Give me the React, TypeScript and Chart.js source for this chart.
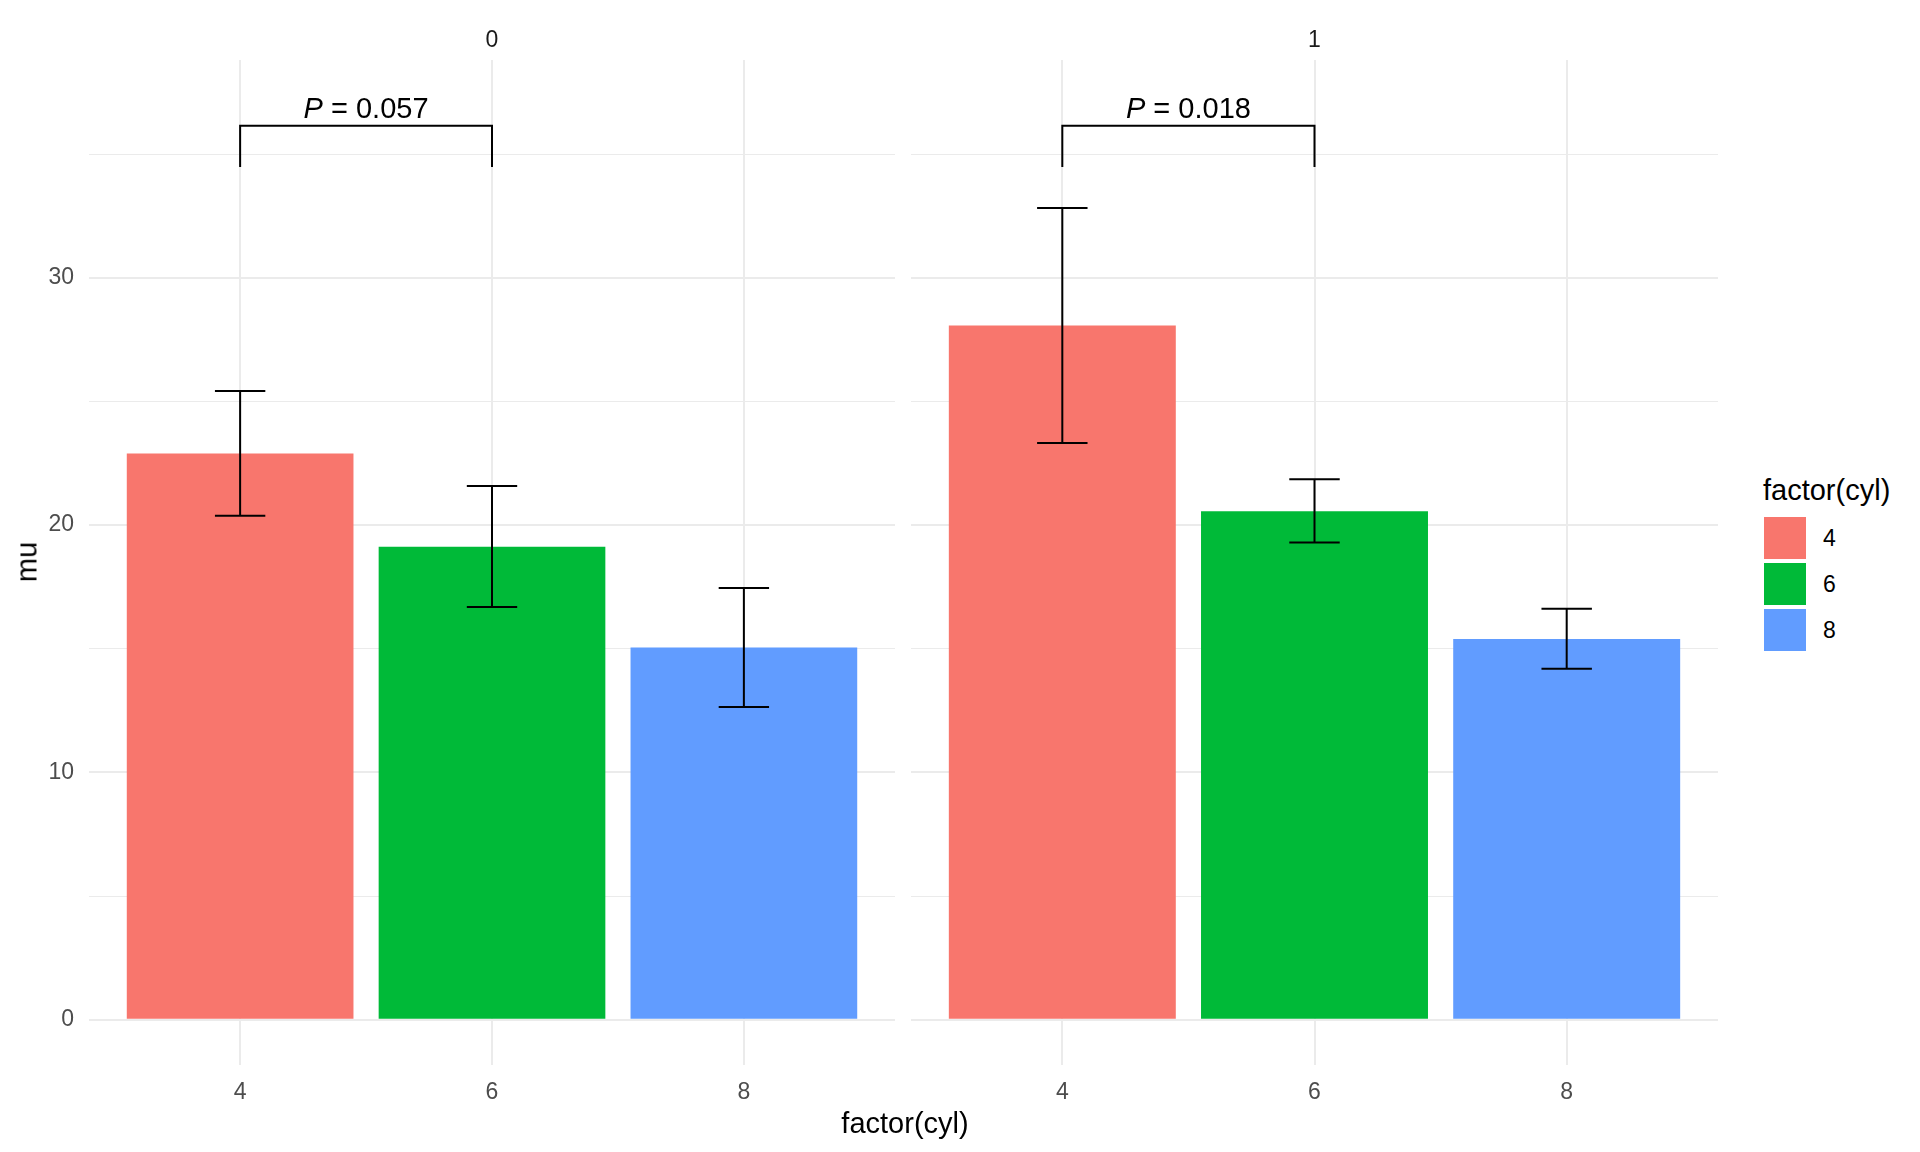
import React, { useEffect, useRef } from "react";
import { Chart, registerables } from "chart.js";
Chart.register(...registerables);

// ---- data ----
const categories = ["4", "6", "8"];
const facets = ["0", "1"];
const muAm0 = [22.9, 19.125, 15.05];
const muAm1 = [28.075, 20.567, 15.4];
const lowerAm0 = [20.38, 16.69, 12.65];
const upperAm0 = [25.43, 21.58, 17.46];
const lowerAm1 = [23.32, 19.3, 14.19];
const upperAm1 = [32.83, 21.86, 16.62];
const pValues = ["0.057", "0.018"];
const bracketY = 36.15;
const bracketLegY = 34.48;
const yLabelTicks = [0, 10, 20, 30];
const yGridTicks = [0, 5, 10, 15, 20, 25, 30, 35];
const colors = ["#F8766D", "#00BA38", "#619CFF"];
const legendTitle = "factor(cyl)";
const xTitle = "factor(cyl)";
const yTitle = "mu";

const FONT = "'Liberation Sans', Arial, Helvetica, sans-serif";
const Y_MIN = -1.81;
const Y_MAX = 38.81;

function makeOverlay(lower: number[], upper: number[], pText: string) {
  return {
    id: "overlay",
    afterDatasetsDraw(chart: any) {
      const { ctx } = chart;
      const x = chart.scales.x;
      const y = chart.scales.y;
      ctx.save();
      ctx.strokeStyle = "#000";
      ctx.lineWidth = 2;
      ctx.lineCap = "butt";
      ctx.lineJoin = "miter";
      for (let i = 0; i < lower.length; i++) {
        const px = x.getPixelForValue(i + 1);
        const half = x.getPixelForValue(i + 1.1) - px;
        const yt = y.getPixelForValue(upper[i]);
        const yb = y.getPixelForValue(lower[i]);
        ctx.beginPath();
        ctx.moveTo(px, yt);
        ctx.lineTo(px, yb);
        ctx.moveTo(px - half, yt);
        ctx.lineTo(px + half, yt);
        ctx.moveTo(px - half, yb);
        ctx.lineTo(px + half, yb);
        ctx.stroke();
      }
      // significance bracket between categories 1 and 2
      const x1 = x.getPixelForValue(1);
      const x2 = x.getPixelForValue(2);
      const yb = y.getPixelForValue(bracketY);
      const yl = y.getPixelForValue(bracketLegY);
      ctx.beginPath();
      ctx.moveTo(x1, yl);
      ctx.lineTo(x1, yb);
      ctx.lineTo(x2, yb);
      ctx.lineTo(x2, yl);
      ctx.stroke();
      // label
      ctx.fillStyle = "#000";
      ctx.textBaseline = "alphabetic";
      ctx.textAlign = "left";
      const italic = `italic 29px ${FONT}`;
      const normal = `29px ${FONT}`;
      ctx.font = italic;
      const wP = ctx.measureText("P").width;
      ctx.font = normal;
      const rest = " = " + pText;
      const wR = ctx.measureText(rest).width;
      const total = wP + wR;
      const cx = (x1 + x2) / 2;
      const ty = yb - 8;
      let sx = cx - total / 2;
      ctx.font = italic;
      ctx.fillText("P", sx, ty);
      ctx.font = normal;
      ctx.fillText(rest, sx + wP, ty);
      ctx.restore();
    },
  };
}

function makeConfig(mu: number[], lower: number[], upper: number[], pText: string, showY: boolean): any {
  return {
    type: "bar",
    data: {
      datasets: [
        {
          data: mu.map((v, i) => ({ x: i + 1, y: v })),
          backgroundColor: colors,
          borderWidth: 0,
          barPercentage: 0.9,
          categoryPercentage: 1,
        },
      ],
    },
    options: {
      responsive: false,
      animation: false,
      devicePixelRatio: 1,
      layout: { padding: { top: 60, left: 0, right: 0, bottom: 0 } },
      plugins: { legend: { display: false }, tooltip: { enabled: false }, title: { display: false } },
      scales: {
        x: {
          type: "linear",
          min: 0.4,
          max: 3.6,
          offset: false,
          afterBuildTicks: (axis: any) => {
            axis.ticks = categories.map((_, i) => ({ value: i + 1 }));
          },
          afterFit: (s: any) => {
            s.height = 87.5;
          },
          border: { display: false },
          grid: { color: "#EBEBEB", lineWidth: 2, drawTicks: false, offset: false },
          ticks: {
            callback: (v: number) => categories[Math.round(v) - 1],
            color: "#4D4D4D",
            font: { size: 23, family: FONT },
            padding: 14,
            autoSkip: false,
            maxRotation: 0,
          },
        },
        y: {
          type: "linear",
          min: Y_MIN,
          max: Y_MAX,
          afterBuildTicks: (axis: any) => {
            axis.ticks = yGridTicks.map((v) => ({ value: v }));
          },
          afterFit: (s: any) => {
            s.width = showY ? 89 : 0;
          },
          border: { display: false },
          grid: {
            color: "#EBEBEB",
            drawTicks: false,
            lineWidth: (c: any) => (c.tick && c.tick.value % 10 === 0 ? 2 : 1),
          },
          ticks: {
            display: showY,
            callback: (v: number) => (yLabelTicks.includes(v) ? String(v) : ""),
            color: "#4D4D4D",
            font: { size: 23, family: FONT },
            padding: 15,
          },
        },
      },
    },
    plugins: [makeOverlay(lower, upper, pText)],
  };
}

const centered = (x: number, y: number, extra: any = {}): any => ({
  position: "absolute",
  left: x,
  top: y,
  transform: "translate(-50%, -50%)",
  lineHeight: 1,
  whiteSpace: "nowrap",
  fontFamily: FONT,
  ...extra,
});

export default function App() {
  const leftRef = useRef<HTMLCanvasElement>(null);
  const rightRef = useRef<HTMLCanvasElement>(null);

  useEffect(() => {
    document.body.style.margin = "0";
    const c1 = new Chart(leftRef.current as HTMLCanvasElement, makeConfig(muAm0, lowerAm0, upperAm0, pValues[0], true));
    const c2 = new Chart(rightRef.current as HTMLCanvasElement, makeConfig(muAm1, lowerAm1, upperAm1, pValues[1], false));
    return () => {
      c1.destroy();
      c2.destroy();
    };
  }, []);

  return (
    <div style={{ position: "absolute", left: 0, top: 0, width: 1920, height: 1152, overflow: "hidden", background: "#fff" }}>
      <canvas ref={leftRef} width={895} height={1152} style={{ position: "absolute", left: 0, top: 0, width: 895, height: 1152 }} />
      <canvas ref={rightRef} width={807} height={1152} style={{ position: "absolute", left: 911, top: 0, width: 807, height: 1152 }} />
      <div style={centered(492, 39, { fontSize: 23, color: "#1A1A1A" })}>{facets[0]}</div>
      <div style={centered(1314.5, 39, { fontSize: 23, color: "#1A1A1A" })}>{facets[1]}</div>
      <div style={centered(27, 562, { fontSize: 29, color: "#000", transform: "translate(-50%, -50%) rotate(-90deg)" })}>{yTitle}</div>
      <div style={centered(905, 1123, { fontSize: 29, color: "#000" })}>{xTitle}</div>
      <div style={{ position: "absolute", left: 1763, top: 490, transform: "translateY(-50%)", fontFamily: FONT, fontSize: 29, lineHeight: 1, whiteSpace: "nowrap", color: "#000" }}>
        {legendTitle}
      </div>
      {categories.map((c, i) => (
        <React.Fragment key={c}>
          <div style={{ position: "absolute", left: 1764, top: 517 + i * 46, width: 42, height: 42, background: colors[i] }} />
          <div style={{ position: "absolute", left: 1823, top: 538 + i * 46, transform: "translateY(-50%)", fontFamily: FONT, fontSize: 23, lineHeight: 1, color: "#000" }}>
            {c}
          </div>
        </React.Fragment>
      ))}
    </div>
  );
}
